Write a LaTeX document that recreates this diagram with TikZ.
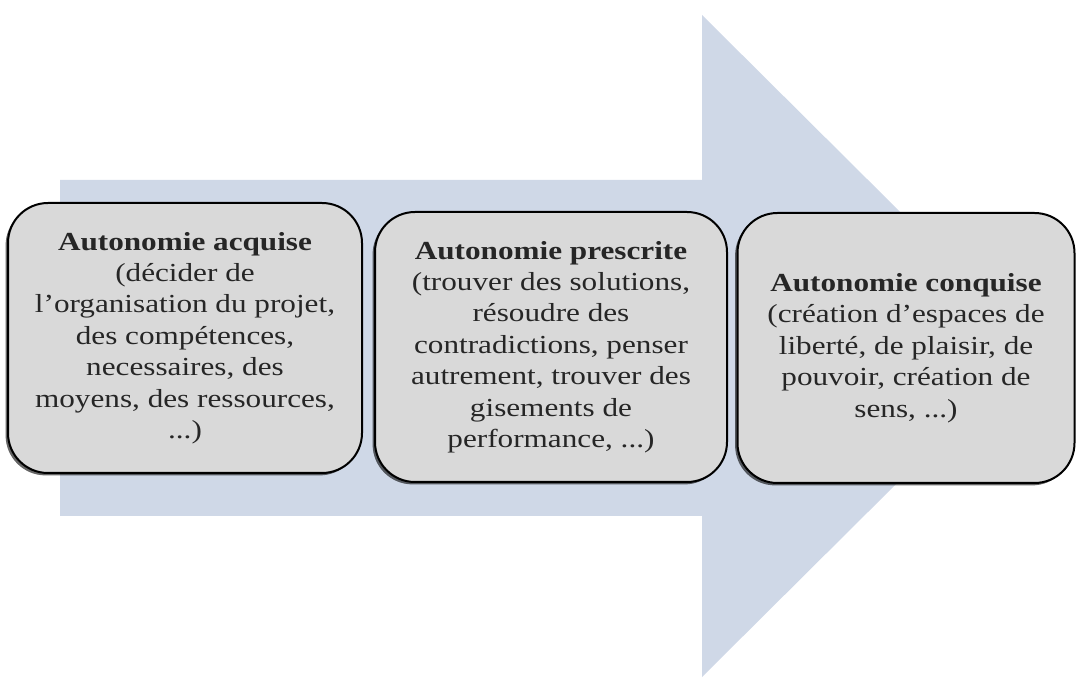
\documentclass[tikz,border=0pt]{standalone}
\usepackage{fontspec}
\setmainfont[FakeStretch=1.2]{Liberation Serif}
\usetikzlibrary{shadows}
\definecolor{fleche}{HTML}{CFD8E7}
\definecolor{boite}{HTML}{D9D9D9}

\begin{document}
\begin{tikzpicture}[x=0.5pt,y=-0.5pt,
    etape/.style={draw=black, line width=1pt, fill=boite, rounded corners=20pt,
      minimum height=135pt, align=center, text=black!85,
      font=\fontsize{13}{15.7}\selectfont,
      drop shadow={shadow xshift=-1.2pt, shadow yshift=-1.2pt, opacity=0.6, fill=black}}]
    \useasboundingbox (0,0) rectangle (1078,679);
    % la grande fleche
    \fill[fleche] (60,180) -- (702,180) -- (702,15) -- (1035,346)
      -- (702,677) -- (702,516) -- (60,516) -- cycle;
    % les trois etapes
    \node[etape, minimum width=177pt] (acquise) at (185,338)
      {\textbf{Autonomie acquise}\\(décider de\\l'organisation du projet,\\des compétences,\\necessaires, des\\moyens, des ressources,\\...)};
    \node[etape, minimum width=176pt] (prescrite) at (551,347)
      {\textbf{Autonomie prescrite}\\(trouver des solutions,\\résoudre des\\contradictions, penser\\autrement, trouver des\\gisements de\\performance, ...)};
    \node[etape, minimum width=168.5pt] (conquise) at (906,348)
      {\textbf{Autonomie conquise}\\(création d'espaces de\\liberté, de plaisir, de\\pouvoir, création de\\sens, ...)};
\end{tikzpicture}
\end{document}
